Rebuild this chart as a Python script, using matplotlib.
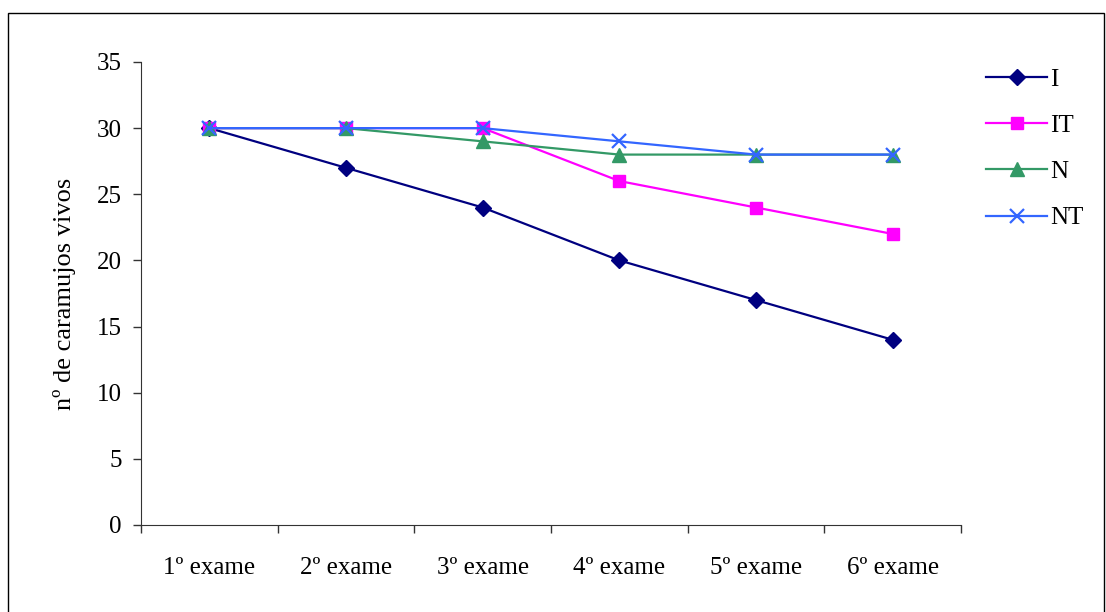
import matplotlib.pyplot as plt
from matplotlib.patches import Rectangle

exames = ['1º exame', '2º exame', '3º exame', '4º exame', '5º exame', '6º exame']
serie_I = [30, 27, 24, 20, 17, 14]
serie_IT = [30, 30, 30, 26, 24, 22]
serie_N = [30, 30, 29, 28, 28, 28]
serie_NT = [30, 30, 30, 29, 28, 28]

plt.rcParams['font.family'] = ['Liberation Serif', 'DejaVu Serif']
plt.rcParams['font.size'] = 18

fig = plt.figure(figsize=(11.06, 6.12), dpi=100)
ax = fig.add_axes([0.1275, 0.1422, 0.7414, 0.7565])

x = [i + 0.5 for i in range(len(exames))]
ax.plot(x, serie_I, color='#000080', marker='D', markersize=8.5, lw=1.6, label='I')
ax.plot(x, serie_IT, color='#FF00FF', marker='s', markersize=8.5, lw=1.6, label='IT')
ax.plot(x, serie_N, color='#339966', marker='^', markersize=10, lw=1.6, label='N')
ax.plot(x, serie_NT, color='#3366FF', marker='x', markersize=9.5, mew=1.6, lw=1.6, label='NT')

ax.set_xlim(0, 6)
ax.set_ylim(0, 35)
ax.set_yticks(range(0, 36, 5))
ax.set_xticks(range(0, 7))
ax.set_xticklabels([])
ax.set_xticks(x, minor=True)
ax.set_xticklabels(exames, minor=True)
ax.tick_params(axis='x', which='minor', length=0, pad=23)
ax.tick_params(axis='both', which='major', direction='out', length=6, width=1, color='#333333')
ax.tick_params(axis='y', pad=8)
for s in ['top', 'right']:
    ax.spines[s].set_visible(False)
for s in ['left', 'bottom']:
    ax.spines[s].set_color('#333333')

ax.set_ylabel('nº de caramujos vivos', fontsize=19, labelpad=15)

fig.legend(loc='upper left', bbox_to_anchor=(986 / 1106, 1 - 68 / 612), frameon=False,
           borderpad=0, borderaxespad=0, handlelength=2.45, handletextpad=0.12,
           labelspacing=0.95)

fig.patches.append(Rectangle((8 / 1106, -0.01), 1096 / 1106, 1 - 13 / 612 + 0.01,
                             transform=fig.transFigure, fill=False, lw=1, ec='black'))

fig.savefig('out.png', dpi=100)
